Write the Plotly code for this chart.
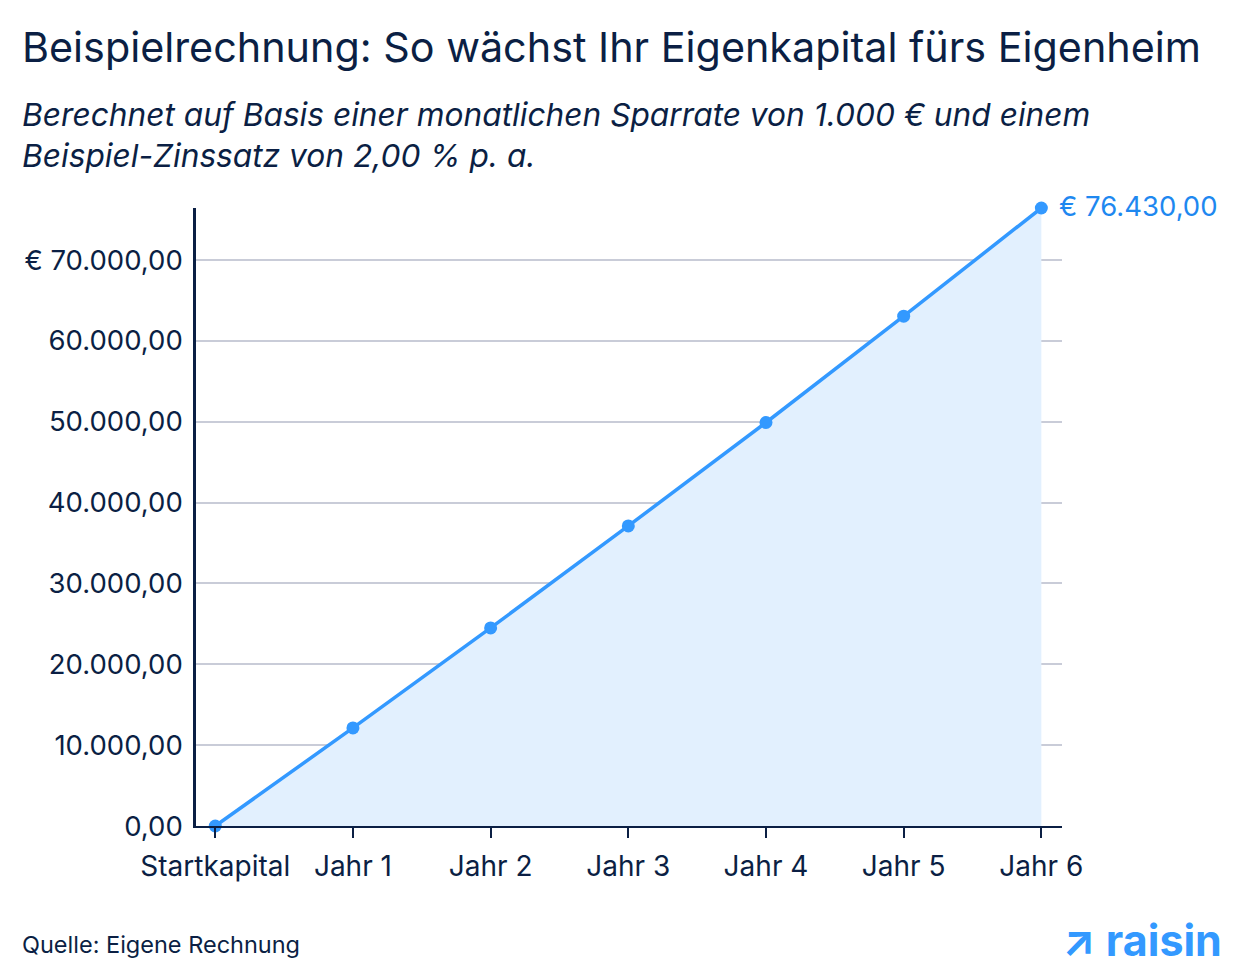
import plotly.graph_objects as go

categories = ["Startkapital", "Jahr 1", "Jahr 2", "Jahr 3", "Jahr 4", "Jahr 5", "Jahr 6"]
values = [0, 12130, 24500, 37110, 49900, 63050, 76430]
y_tickvals = [0, 10000, 20000, 30000, 40000, 50000, 60000, 70000]
y_ticktext = ["0,00", "10.000,00", "20.000,00", "30.000,00", "40.000,00",
              "50.000,00", "60.000,00", "€ 70.000,00"]
last_label = "€ 76.430,00"

NAVY = "#0B1F44"
BLUE = "#3399FF"
FONT = "Inter"

L, R, T, B = 196, 178, 208, 152
PW, PH = 1240 - L - R, 978 - T - B


def px_x(x):
    return (x - L) / PW


def px_y(y):
    return (978 - B - y) / PH


xs = list(range(len(categories)))

fig = go.Figure()
fig.add_trace(go.Scatter(
    x=xs, y=values, mode="lines+markers",
    line=dict(color=BLUE, width=3.5),
    marker=dict(color=BLUE, size=13),
    fill="tozeroy", fillcolor="#E2F0FE",
    cliponaxis=False, hoverinfo="skip", showlegend=False,
))

fig.add_annotation(x=xs[-1], y=values[-1], text=last_label, showarrow=False,
                   xanchor="left", yanchor="middle", xshift=16, yshift=2,
                   font=dict(family=FONT, size=27.5, color="#1E88F0"))

fig.update_layout(
    width=1240, height=978,
    margin=dict(l=L, r=R, t=T, b=B),
    paper_bgcolor="white", plot_bgcolor="white",
    font=dict(family=FONT, color=NAVY),
    xaxis=dict(
        tickmode="array", tickvals=xs, ticktext=categories,
        range=[-0.14, 6.15], showgrid=False, zeroline=False,
        showline=True, linecolor=NAVY, linewidth=2,
        ticks="outside", ticklen=10, tickwidth=2, tickcolor=NAVY,
        ticklabelstandoff=4,
        tickfont=dict(family=FONT, size=28, color=NAVY),
    ),
    yaxis=dict(
        tickmode="array", tickvals=y_tickvals, ticktext=y_ticktext,
        range=[0, 76430], showgrid=True, gridcolor="#C9CCD8", gridwidth=1.5,
        zeroline=False, showline=True, linecolor=NAVY, linewidth=2.5,
        ticks="", ticklabelstandoff=5,
        tickfont=dict(family=FONT, size=27.5, color=NAVY),
    ),
)

fig.add_annotation(xref="paper", yref="paper", x=px_x(20), y=px_y(47),
                   xanchor="left", yanchor="middle", align="left",
                   text="Beispielrechnung: So wächst Ihr Eigenkapital fürs Eigenheim",
                   showarrow=False, font=dict(family=FONT, size=41.3, color=NAVY))
fig.add_annotation(xref="paper", yref="paper", x=px_x(20), y=px_y(135),
                   xanchor="left", yanchor="middle", align="left",
                   text="<i>Berechnet auf Basis einer monatlichen Sparrate von 1.000 € und einem<br>Beispiel-Zinssatz von 2,00 % p. a.</i>",
                   showarrow=False, font=dict(family=FONT, size=31.7, color=NAVY))
fig.add_annotation(xref="paper", yref="paper", x=px_x(20), y=px_y(944),
                   xanchor="left", yanchor="middle", align="left",
                   text="Quelle: Eigene Rechnung",
                   showarrow=False, font=dict(family=FONT, size=23.5, color=NAVY))
fig.add_annotation(xref="paper", yref="paper", x=px_x(1224), y=px_y(940),
                   xanchor="right", yanchor="middle", align="right",
                   text="<b>↗ raisin</b>",
                   showarrow=False, font=dict(family=FONT, size=43, color=BLUE))

fig.write_html("out.html")
